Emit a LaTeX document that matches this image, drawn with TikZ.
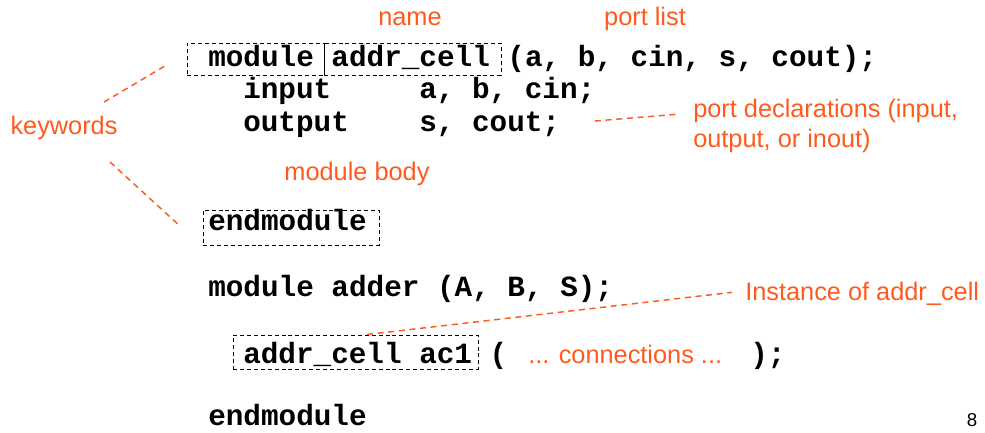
\documentclass[tikz,border=0pt]{standalone}
\usepackage{fontspec}
\setmainfont{Liberation Sans}
\setmonofont{Liberation Mono}
\usetikzlibrary{positioning}
\definecolor{annot}{RGB}{255,90,30}
\tikzstyle{code} = [font=\fontsize{22}{26}\selectfont\ttfamily\bfseries, inner sep=0pt, anchor=base west]
\tikzstyle{note} = [font=\fontsize{19}{23}\selectfont, text=annot, inner sep=0pt]
\tikzstyle{box} = [rectangle, draw=black, line width=0.75pt, dash pattern=on 3pt off 2.2pt, inner sep=0pt]
\tikzstyle{link} = [draw=annot, line width=1.1pt, dash pattern=on 4.5pt off 3.5pt]

\begin{document}
\begin{tikzpicture}[x=0.75pt, y=-0.75pt]
\useasboundingbox (0,0) rectangle (985,432);
% Code lines
\node (modline) [code] at (208,66) {module addr\_cell (a, b, cin, s, cout);};
\node (inline) [code] at (243,98) {input~~~~~a, b, cin;};
\node (outline) [code] at (243,131) {output~~~~s, cout;};
\node (endline) [code] at (208,230) {endmodule};
\node (adderline) [code] at (208,296) {module adder (A, B, S);};
\node (instline) [code] at (243,363) {addr\_cell ac1 (};
\node (closeline) [code] at (750,363) {);};
\node (lastline) [code] at (208,425) {endmodule};
% Dashed boxes
\node (modbox) [box, minimum width=102.75pt, minimum height=24pt] at (255.5,59) {};
\node (namebox) [box, minimum width=132.75pt, minimum height=24pt] at (412.5,59) {};
\node (endbox) [box, minimum width=132pt, minimum height=26.25pt] at (291,227.5) {};
\node (instbox) [box, minimum width=183.75pt, minimum height=25.5pt] at (355.5,352) {};
% Annotations
\node (name) [note, anchor=base] at (410,25) {name};
\node (portlist) [note, anchor=base] at (645,25) {port list};
\node (keywords) [note, anchor=base] at (64,134) {keywords};
\node (portdecl) [note, anchor=west, align=left] at (693,126) {port declarations (input,\\output, or inout)};
\node (body) [note, anchor=base] at (357,180) {module body};
\node (instance) [note, anchor=base west] at (745,300) {Instance of addr\_cell};
\node (conns) [note, anchor=base west] at (528,363) {... connections ...};
\node (pagenum) [font=\fontsize{14}{16}\selectfont, inner sep=0pt, anchor=base] at (972,426) {8};
% Connectors
\coordinate (kwtop) at (104,102);
\coordinate (kwbot) at (110,162);
\coordinate (declend) at (595,121);
\draw [link] (kwtop) -- ([xshift=-14.25pt, yshift=8.25pt]modbox.south west);
\draw [link] (kwbot) -- ([xshift=-16.5pt, yshift=-12.75pt]endbox.north west);
\draw [link] (declend) -- ([xshift=-9.75pt, yshift=9pt]portdecl.west);
\draw [link] ([xshift=8.6pt]instbox.north) -- ([xshift=-9.75pt, yshift=0.75pt]instance.west);
\end{tikzpicture}
\end{document}
